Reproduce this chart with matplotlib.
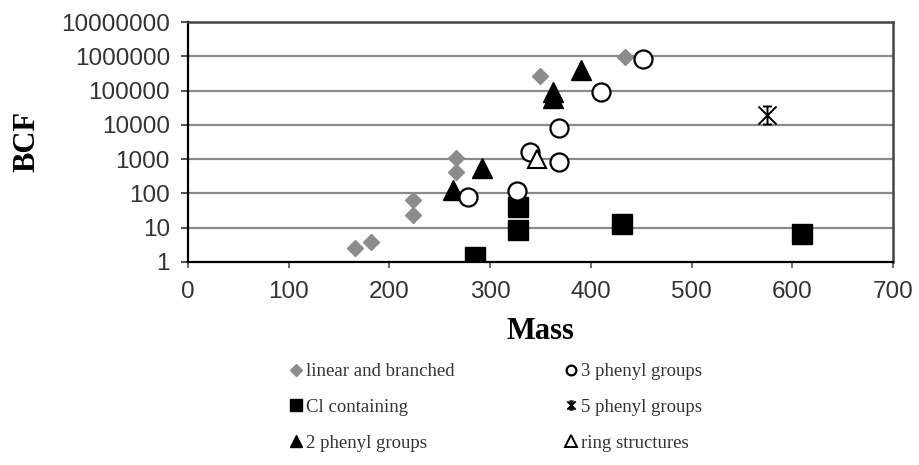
import numpy as np
import matplotlib
matplotlib.use("Agg")
import matplotlib.pyplot as plt
from matplotlib.path import Path
from matplotlib.lines import Line2D

# data
lin_mass = [166, 182, 223, 223, 266, 266, 350, 434]
lin_bcf = [2.6, 3.8, 64, 23, 1070, 420, 265000, 950000]
cl_mass = [285, 328, 328, 431, 610]
cl_bcf = [1.4, 40, 8.6, 13, 6.5]
ph2_mass = [263, 292, 362, 362, 390]
ph2_bcf = [130, 570, 91000, 60000, 400000]
ph3_mass = [278, 327, 340, 368, 368, 410, 452]
ph3_bcf = [78, 117, 1600, 830, 8000, 91000, 830000]
ph5_mass = [575]
ph5_bcf = [19500]
ring_mass = [347]
ring_bcf = [1000]

labels_left = ["linear and branched", "Cl containing", "2 phenyl groups"]
labels_right = ["3 phenyl groups", "5 phenyl groups", "ring structures"]

# X with a centre line and short bars top and bottom (excel style star)
star = Path(
    [(-1, -1), (1, 1), (-1, 1), (1, -1), (0, -0.9), (0, 0.9),
     (-0.5, 1), (0.5, 1), (-0.5, -1), (0.5, -1)],
    [Path.MOVETO, Path.LINETO] * 5,
)

gray = "#8c8c8c"
txt = "#333333"

fig = plt.figure(figsize=(9.2, 4.65), dpi=100)
ax = fig.add_axes([188 / 920, 203 / 465, 705 / 920, 240 / 465])

ax.set_yscale("log")
ax.set_ylim(1, 1e7)
ax.set_xlim(0, 700)

for v in [10, 100, 1e3, 1e4, 1e5, 1e6]:
    ax.axhline(v, color="#8a8a8a", lw=1.6, zorder=0)

ax.plot(lin_mass, lin_bcf, "D", color=gray, ms=8.5, mec=gray, ls="none")
ax.plot(cl_mass, cl_bcf, "s", color="black", ms=14, ls="none")
ax.plot(ph2_mass, ph2_bcf, "^", color="black", ms=14, ls="none")
ax.plot(ph3_mass, ph3_bcf, "o", mfc="white", mec="black", mew=1.6, ms=13, ls="none")
ax.plot(ph5_mass, ph5_bcf, marker=star, color="black", mew=1.4, ms=13, ls="none")
ax.plot(ring_mass, ring_bcf, "^", mfc="white", mec="black", mew=1.5, ms=13, ls="none")

yt = [1, 10, 100, 1000, 10000, 100000, 1000000, 10000000]
ax.set_yticks(yt)
ax.set_yticklabels([str(v) for v in yt])
ax.yaxis.set_minor_locator(matplotlib.ticker.NullLocator())
ax.set_xticks(np.arange(0, 701, 100))

for t in ax.get_xticklabels() + ax.get_yticklabels():
    t.set_fontproperties(matplotlib.font_manager.FontProperties(family="Liberation Sans", size=17.5))
    t.set_color(txt)
ax.tick_params(axis="y", direction="out", length=5, width=1.2, pad=8, color=txt)
ax.tick_params(axis="x", direction="out", length=4, width=1.2, pad=10, color="#555555")

for s in ["left", "bottom"]:
    ax.spines[s].set_color("black")
    ax.spines[s].set_linewidth(1.6)
for s in ["top", "right"]:
    ax.spines[s].set_color("#444444")
    ax.spines[s].set_linewidth(1.8)

ax.set_xlabel("Mass", family="Liberation Serif", weight="bold", size=22, labelpad=10)
ax.set_ylabel("BCF", family="Liberation Serif", weight="bold", size=22, labelpad=14)

h_left = [
    Line2D([], [], marker="D", color=gray, ls="none", ms=6),
    Line2D([], [], marker="s", color="black", ls="none", ms=9),
    Line2D([], [], marker="^", color="black", ls="none", ms=8),
]
h_right = [
    Line2D([], [], marker="o", mfc="white", mec="black", mew=1.6, ls="none", ms=7),
    Line2D([], [], marker=star, color="black", mew=1.4, ls="none", ms=6),
    Line2D([], [], marker="^", mfc="white", mec="black", mew=1.4, ls="none", ms=8),
]
legkw = dict(frameon=False, loc="upper left", borderpad=0, borderaxespad=0,
             handlelength=0.6, handletextpad=0.25, labelspacing=1.0,
             prop=dict(family="Liberation Serif", size=13.5), labelcolor=txt)
leg1 = fig.legend(h_left, labels_left, bbox_to_anchor=(290 / 920, 102 / 465), **legkw)
leg2 = fig.legend(h_right, labels_right, bbox_to_anchor=(565 / 920, 102 / 465), **legkw)

fig.savefig("out.png", dpi=100)
